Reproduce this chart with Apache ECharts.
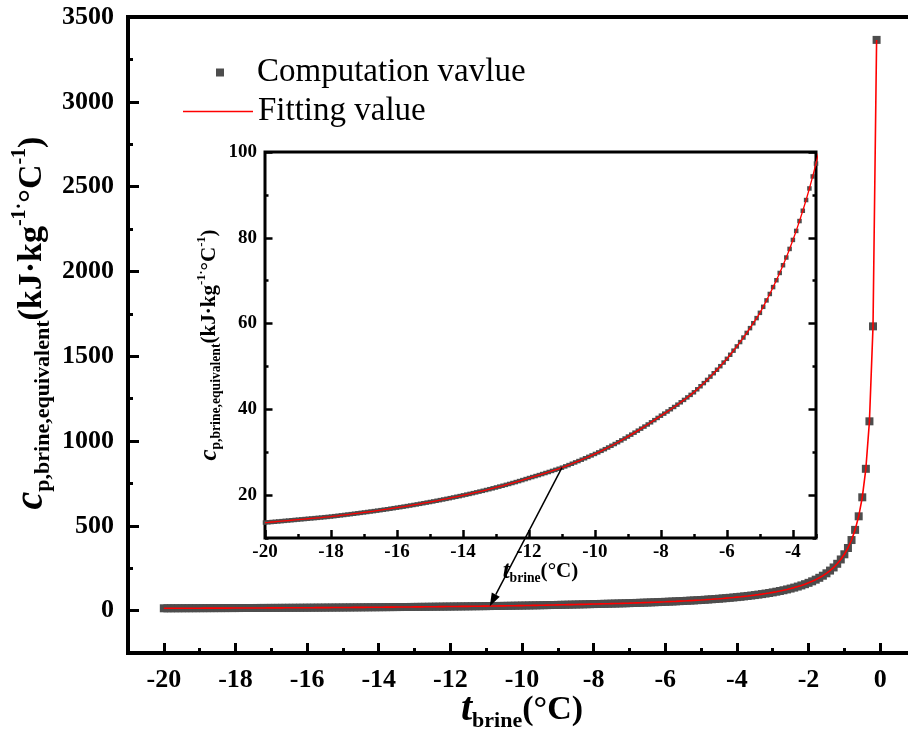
<!DOCTYPE html>
<html>
<head>
<meta charset="utf-8">
<title>Equivalent specific heat of brine</title>
<script src="https://cdn.jsdelivr.net/npm/echarts@6.0.0/dist/echarts.min.js"></script>
<style>
html, body { margin: 0; padding: 0; background: #fff; }
#chart { width: 908px; height: 744px; }
</style>
</head>
<body>
<div id="chart"></div>
<script>
// brine temperature (°C), 0.1 step
const temps = [
  -20.0,-19.9,-19.8,-19.7,-19.6,-19.5,-19.4,-19.3,-19.2,-19.1,
  -19.0,-18.9,-18.8,-18.7,-18.6,-18.5,-18.4,-18.3,-18.2,-18.1,
  -18.0,-17.9,-17.8,-17.7,-17.6,-17.5,-17.4,-17.3,-17.2,-17.1,
  -17.0,-16.9,-16.8,-16.7,-16.6,-16.5,-16.4,-16.3,-16.2,-16.1,
  -16.0,-15.9,-15.8,-15.7,-15.6,-15.5,-15.4,-15.3,-15.2,-15.1,
  -15.0,-14.9,-14.8,-14.7,-14.6,-14.5,-14.4,-14.3,-14.2,-14.1,
  -14.0,-13.9,-13.8,-13.7,-13.6,-13.5,-13.4,-13.3,-13.2,-13.1,
  -13.0,-12.9,-12.8,-12.7,-12.6,-12.5,-12.4,-12.3,-12.2,-12.1,
  -12.0,-11.9,-11.8,-11.7,-11.6,-11.5,-11.4,-11.3,-11.2,-11.1,
  -11.0,-10.9,-10.8,-10.7,-10.6,-10.5,-10.4,-10.3,-10.2,-10.1,
  -10.0,-9.9,-9.8,-9.7,-9.6,-9.5,-9.4,-9.3,-9.2,-9.1,
  -9.0,-8.9,-8.8,-8.7,-8.6,-8.5,-8.4,-8.3,-8.2,-8.1,
  -8.0,-7.9,-7.8,-7.7,-7.6,-7.5,-7.4,-7.3,-7.2,-7.1,
  -7.0,-6.9,-6.8,-6.7,-6.6,-6.5,-6.4,-6.3,-6.2,-6.1,
  -6.0,-5.9,-5.8,-5.7,-5.6,-5.5,-5.4,-5.3,-5.2,-5.1,
  -5.0,-4.9,-4.8,-4.7,-4.6,-4.5,-4.4,-4.3,-4.2,-4.1,
  -4.0,-3.9,-3.8,-3.7,-3.6,-3.5,-3.4,-3.3,-3.2,-3.1,
  -3.0,-2.9,-2.8,-2.7,-2.6,-2.5,-2.4,-2.3,-2.2,-2.1,
  -2.0,-1.9,-1.8,-1.7,-1.6,-1.5,-1.4,-1.3,-1.2,-1.1,
  -1.0,-0.9,-0.8,-0.7,-0.6,-0.5,-0.4,-0.3,-0.2,-0.1
];
// equivalent specific heat (kJ/kg/°C)
const cpValues = [
  13.60,13.66,13.73,13.79,13.86,13.93,14.00,14.07,14.14,14.21,
  14.28,14.35,14.42,14.49,14.56,14.63,14.70,14.77,14.85,14.92,
  15.00,15.09,15.18,15.28,15.37,15.47,15.56,15.66,15.76,15.86,
  15.96,16.06,16.17,16.27,16.38,16.49,16.60,16.71,16.83,16.95,
  17.07,17.19,17.31,17.44,17.57,17.70,17.83,17.97,18.11,18.25,
  18.39,18.53,18.68,18.83,18.98,19.13,19.29,19.45,19.61,19.77,
  19.94,20.11,20.28,20.46,20.64,20.82,21.00,21.19,21.38,21.58,
  21.78,21.98,22.18,22.39,22.60,22.82,23.04,23.27,23.50,23.74,
  23.98,24.21,24.44,24.67,24.91,25.15,25.39,25.64,25.89,26.14,
  26.40,26.70,27.00,27.31,27.62,27.94,28.26,28.59,28.92,29.26,
  29.60,29.96,30.33,30.71,31.10,31.50,31.91,32.33,32.76,33.20,
  33.65,34.10,34.56,35.03,35.50,35.98,36.47,36.97,37.48,38.00,
  38.52,39.00,39.50,40.02,40.55,41.09,41.64,42.20,42.78,43.37,
  43.97,44.67,45.38,46.11,46.86,47.63,48.42,49.23,50.06,50.91,
  51.78,52.72,53.68,54.67,55.69,56.74,57.82,58.93,60.08,61.27,
  62.5,63.9,65.4,66.9,68.5,70.1,71.8,73.6,75.4,77.4,
  79.5,81.6,83.9,86.3,88.8,91.5,94.3,97.3,100.5,103.9,
  107.5,111.4,115.6,120.0,124.8,130.0,135.6,141.7,148.4,155.7,
  163.7,172.6,182.4,193.4,205.8,219.9,235.9,254.4,276.0,301.6,
  332,369,416,476,556,668,836,1116,1676,3365
];

const mainXTicks = [-20, -18, -16, -14, -12, -10, -8, -6, -4, -2, 0];
const mainYTicks = [0, 500, 1000, 1500, 2000, 2500, 3000, 3500];
const insetXTicks = [-20, -18, -16, -14, -12, -10, -8, -6, -4];
const insetYTicks = [20, 40, 60, 80, 100];

// arrow: from the inset curve down to the same spot in the main plot
const arrowFrom = [-11, 26.4];
const arrowTo = [-10.9, 26];

const serif = '"Liberation Serif", "Times New Roman", serif';
const points = temps.map((t, i) => [t, cpValues[i]]);

function nameRich(k) {
  return {
    i: {fontFamily: serif, fontStyle: 'italic', fontWeight: 'bold', fontSize: 40 * k, lineHeight: 44 * k, color: '#000'},
    b: {fontFamily: serif, fontWeight: 'bold', fontSize: 34 * k, lineHeight: 44 * k, color: '#000'},
    s: {fontFamily: serif, fontWeight: 'bold', fontSize: 22 * k, lineHeight: 22 * k, verticalAlign: 'bottom', color: '#000'},
    u: {fontFamily: serif, fontWeight: 'bold', fontSize: 20 * k, lineHeight: 30 * k, verticalAlign: 'top', color: '#000'}
  };
}

function tickAxis(grid, min, max, pos, opts) {
  const ax = {
    gridIndex: grid, type: 'value', min: min, max: max, position: pos,
    axisLine: {show: false, onZero: false},
    splitLine: {show: false},
    axisTick: {show: true, inside: true, length: opts.len, lineStyle: {color: '#000', width: opts.w}},
    axisLabel: {show: false}
  };
  if (opts.interval) ax.interval = opts.interval;
  if (opts.ticks) ax.axisTick.customValues = opts.ticks;
  if (opts.labels) {
    ax.axisLabel = {
      show: true, customValues: opts.ticks, margin: opts.margin,
      color: '#000', fontFamily: serif, fontWeight: 'bold', fontSize: opts.fs,
      formatter: v => String(v)
    };
  }
  if (opts.name) {
    ax.name = opts.name;
    ax.nameLocation = 'middle';
    ax.nameGap = opts.nameGap;
    ax.nameMoveOverlap = false;
    ax.nameTextStyle = {rich: nameRich(opts.k), padding: opts.namePad || 0};
  }
  return ax;
}

const yName = '{i|c}{s|p,brine,equivalent}{b|(kJ·kg}{u|-1·}{b|°C}{u|-1}{b|)}';
const xName = '{i|t}{s|brine}{b|(°C)}';

const chart = echarts.init(document.getElementById('chart'));
chart.setOption({
  animation: false,
  backgroundColor: '#fff',
  grid: [
    {left: 128, top: 17, right: -8, bottom: 91, show: true, borderColor: '#000', borderWidth: 4,
     backgroundColor: 'transparent', outerBoundsMode: 'none'},
    {left: 265, top: 152, right: 92, bottom: 206, show: true, borderColor: '#000', borderWidth: 3,
     backgroundColor: '#fff', outerBoundsMode: 'none'}
  ],
  xAxis: [
    tickAxis(0, -21, 1, 'bottom', {len: 10, w: 3, ticks: mainXTicks, labels: true, fs: 26, margin: 14,
      name: xName, nameGap: 35, k: 1}),
    tickAxis(0, -21, 1, 'bottom', {len: 5, w: 3, interval: 1}),
    tickAxis(1, -20, -3.3, 'bottom', {len: 8, w: 2.5, ticks: insetXTicks, labels: true, fs: 19, margin: 5,
      name: xName, nameGap: 20, k: 0.62}),
    tickAxis(1, -20, -3.3, 'bottom', {len: 4, w: 2.5, interval: 1})
  ],
  yAxis: [
    tickAxis(0, -250, 3500, 'left', {len: 11, w: 3, ticks: mainYTicks, labels: true, fs: 26, margin: 14,
      name: yName, nameGap: 74, k: 1, namePad: [0, 0, 0, 24]}),
    tickAxis(0, -250, 3500, 'left', {len: 5, w: 3, interval: 250}),
    tickAxis(1, 10, 100, 'left', {len: 7.5, w: 2.5, ticks: insetYTicks, labels: true, fs: 19, margin: 8,
      name: yName, nameGap: 42, k: 0.62}),
    tickAxis(1, 10, 100, 'left', {len: 3.5, w: 2.5, interval: 10}),
    tickAxis(1, 10, 100, 'right', {len: 7.5, w: 2.5, ticks: insetYTicks}),
    tickAxis(1, 10, 100, 'right', {len: 3.5, w: 2.5, interval: 10})
  ],
  legend: [
    {data: [{name: 'Computation vavlue', icon: 'rect'}], left: 216, top: 56, padding: 0,
     itemWidth: 8, itemHeight: 8,
     textStyle: {fontFamily: serif, fontSize: 33, color: '#000', padding: [0, 0, 0, 28]}},
    {data: [{name: 'Fitting value', icon: 'rect'}], left: 183, top: 95, padding: 0,
     itemWidth: 70, itemHeight: 1.6,
     textStyle: {fontFamily: serif, fontSize: 33, color: '#000'}}
  ],
  series: [
    {name: 'Computation vavlue', type: 'scatter', xAxisIndex: 0, yAxisIndex: 0, data: points,
     symbol: 'rect', symbolSize: 8, itemStyle: {color: '#4d4d4d', opacity: 1}, z: 2},
    {name: 'Fitting value', type: 'line', xAxisIndex: 0, yAxisIndex: 0, data: points,
     symbol: 'none', lineStyle: {color: '#ff0000', width: 1.6}, itemStyle: {color: '#ff0000'}, z: 3},
    {name: 'Computation vavlue', type: 'scatter', xAxisIndex: 2, yAxisIndex: 2, data: points,
     symbol: 'rect', symbolSize: 4.5, itemStyle: {color: '#4d4d4d', opacity: 1}, clip: true, z: 2},
    {name: 'Fitting value', type: 'line', xAxisIndex: 2, yAxisIndex: 2, data: points,
     symbol: 'none', lineStyle: {color: '#ff0000', width: 1.3}, itemStyle: {color: '#ff0000'}, clip: true, z: 3}
  ]
});

// annotation arrow, placed through the axes' own scales
const p0 = chart.convertToPixel({seriesIndex: 2}, arrowFrom);
const p1 = chart.convertToPixel({seriesIndex: 0}, arrowTo);
const ang = Math.atan2(p1[1] - p0[1], p1[0] - p0[0]);
const headLen = 13, headW = 4.5;
const base = [p1[0] - headLen * Math.cos(ang), p1[1] - headLen * Math.sin(ang)];
chart.setOption({
  graphic: [
    {type: 'line', z: 50, shape: {x1: p0[0], y1: p0[1], x2: base[0], y2: base[1]},
     style: {stroke: '#000', lineWidth: 1.5}},
    {type: 'polygon', z: 50, shape: {points: [
      p1,
      [base[0] + headW * Math.sin(ang), base[1] - headW * Math.cos(ang)],
      [base[0] - headW * Math.sin(ang), base[1] + headW * Math.cos(ang)]
    ]}, style: {fill: '#000'}}
  ]
});
</script>
</body>
</html>
